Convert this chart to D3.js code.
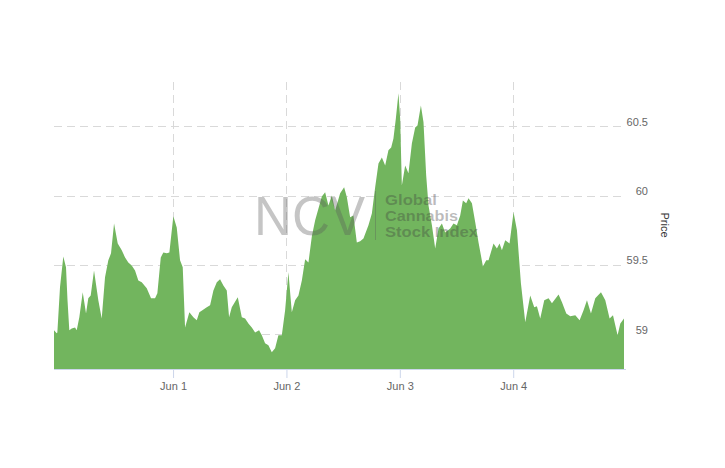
<!DOCTYPE html>
<html>
<head>
<meta charset="utf-8">
<script src="https://cdn.jsdelivr.net/npm/d3@7"></script>
<style>
  html, body { margin: 0; padding: 0; background: #fff; }
  svg { display: block; }
</style>
</head>
<body>
<svg id="chart" width="725" height="468"></svg>
<script>
// ---- data (hours since 2019-05-31 00:00, index price) ----
const hours = [
  -1.20, -0.63, -0.49, 0.07, 0.77, 1.34, 1.66, 2.04, 2.55, 3.25,
  3.61, 4.16, 4.88, 5.58, 6.06, 6.57, 7.27, 8.18, 8.90, 9.60,
  10.30, 10.87, 11.51, 12.29, 13.14, 13.84, 14.53, 15.25, 15.95, 16.65,
  17.37, 18.43, 19.34, 20.19, 20.68, 21.40, 21.95, 22.67, 23.22, 24.06,
  24.78, 25.48, 26.05, 26.54, 27.45, 28.30, 29.02, 29.57, 30.21, 31.14,
  31.84, 32.54, 33.26, 33.95, 34.65, 35.37, 35.86, 36.43, 37.70, 38.55,
  39.25, 39.95, 40.67, 41.37, 42.21, 42.79, 43.48, 44.18, 44.90, 45.60,
  46.30, 47.02, 47.72, 48.42, 49.14, 49.84, 50.54, 51.26, 51.96, 52.66,
  53.38, 54.08, 54.78, 55.49, 56.19, 56.89, 57.61, 58.31, 59.37, 60.21,
  60.79, 61.48, 62.18, 62.90, 63.60, 64.30, 65.36, 66.08, 66.78, 67.48,
  68.20, 68.90, 69.59, 70.17, 70.65, 71.16, 71.71, 72.07, 72.43, 73.13,
  73.83, 74.55, 75.25, 75.74, 76.46, 77.01, 77.58, 78.07, 78.79, 79.49,
  80.19, 80.91, 81.60, 82.66, 83.36, 84.08, 84.78, 85.35, 86.05, 86.54,
  87.26, 87.96, 88.66, 89.59, 90.29, 90.78, 91.83, 92.55, 93.10, 93.61,
  94.31, 95.22, 96.07, 96.79, 97.63, 98.55, 99.60, 100.45, 101.02, 101.72,
  102.57, 103.48, 104.20, 105.60, 106.32, 107.23, 108.08, 109.14, 110.05, 110.89,
  111.61, 112.46, 113.37, 114.58, 115.49, 116.40, 117.12, 118.09, 118.67, 119.45
];
const prices = [
  59.029, 59.007, 59.014, 59.339, 59.562, 59.483, 59.245, 59.029, 59.043, 59.050,
  59.029, 59.123, 59.303, 59.151, 59.260, 59.281, 59.461, 59.245, 59.115, 59.411,
  59.534, 59.584, 59.800, 59.656, 59.606, 59.555, 59.519, 59.497, 59.461, 59.389,
  59.375, 59.332, 59.260, 59.260, 59.296, 59.555, 59.591, 59.584, 59.591, 59.851,
  59.771, 59.534, 59.483, 59.050, 59.159, 59.123, 59.101, 59.159, 59.173, 59.195,
  59.209, 59.317, 59.375, 59.397, 59.353, 59.317, 59.123, 59.195, 59.267, 59.123,
  59.115, 59.079, 59.050, 59.014, 59.029, 58.993, 58.935, 58.921, 58.870, 58.899,
  58.993, 58.993, 59.173, 59.447, 59.159, 59.245, 59.281, 59.389, 59.541, 59.519,
  59.707, 59.822, 59.908, 59.995, 60.024, 59.930, 60.002, 59.894, 60.017, 60.060,
  59.988, 59.844, 59.858, 59.663, 59.671, 59.692, 59.786, 59.872, 60.060, 60.233,
  60.276, 60.218, 60.327, 60.348, 60.413, 60.557, 60.738, 60.557, 60.074, 60.218,
  60.161, 60.377, 60.492, 60.507, 60.651, 60.529, 60.146, 59.930, 59.786, 59.620,
  59.764, 59.800, 59.735, 59.764, 59.800, 59.786, 59.858, 59.966, 59.945, 59.981,
  59.945, 59.808, 59.663, 59.490, 59.534, 59.534, 59.656, 59.620, 59.656, 59.606,
  59.678, 59.656, 59.880, 59.750, 59.368, 59.087, 59.281, 59.195, 59.202, 59.115,
  59.245, 59.260, 59.224, 59.288, 59.231, 59.151, 59.130, 59.137, 59.101, 59.173,
  59.245, 59.151, 59.260, 59.303, 59.245, 59.115, 59.137, 58.993, 59.079, 59.115
];
const yTicks = [59, 59.5, 60, 60.5];
const xTickDates = ["2019-06-01", "2019-06-02", "2019-06-03", "2019-06-04"];
const xTickLabels = ["Jun 1", "Jun 2", "Jun 3", "Jun 4"];
const yAxisTitle = "Price";
const watermarkBig = "NCV";
const watermarkLines = ["Global", "Cannabis", "Stock Index"];

// ---- build ----
const base = Date.UTC(2019, 4, 31, 0, 0);
const data = hours.map((h, i) => ({ t: new Date(base + h * 3600e3), v: prices[i] }));

const svg = d3.select("#chart");
const plot = { left: 54, right: 624, top: 82, bottom: 369 };

const x = d3.scaleUtc()
  .domain(d3.extent(data, d => d.t))
  .range([plot.left, plot.right]);
const y = d3.scaleLinear()
  .domain([58.75, 60.82])
  .range([plot.bottom, plot.top]);

const gridColor = "#d9d9d9";
const font = "'Liberation Sans', Arial, Helvetica, sans-serif";

// horizontal grid
svg.append("g").selectAll("line").data(yTicks).join("line")
  .attr("x1", plot.left).attr("x2", plot.right)
  .attr("y1", d => Math.round(y(d)) + 0.5).attr("y2", d => Math.round(y(d)) + 0.5)
  .attr("stroke", gridColor).attr("stroke-dasharray", "8,5");

// vertical grid
const xTicks = xTickDates.map(s => new Date(s + "T00:00:00Z"));
svg.append("g").selectAll("line").data(xTicks).join("line")
  .attr("x1", d => Math.round(x(d)) + 0.5).attr("x2", d => Math.round(x(d)) + 0.5)
  .attr("y1", plot.top).attr("y2", plot.bottom)
  .attr("stroke", gridColor).attr("stroke-dasharray", "8,5");

// area
const area = d3.area()
  .x(d => x(d.t))
  .y0(y(58.75))
  .y1(d => y(d.v));
svg.append("path").datum(data)
  .attr("d", area)
  .attr("fill", "#72b55e");

// x axis
const xAxis = d3.axisBottom(x)
  .tickValues(xTicks)
  .tickFormat((d, i) => xTickLabels[i])
  .tickSize(9)
  .tickPadding(4);
const gx = svg.append("g")
  .attr("transform", `translate(0,${plot.bottom})`)
  .call(xAxis);
gx.select(".domain").attr("stroke", "#ccd6eb").attr("d", `M${plot.left},0.5H${plot.right + 2}`);
gx.selectAll(".tick line").attr("stroke", "#ccd6eb");
gx.selectAll(".tick text")
  .attr("fill", "#666").attr("font-size", 11).attr("font-family", font);

// y axis (right, labels only)
const yAxis = d3.axisRight(y)
  .tickValues(yTicks)
  .tickFormat(d3.format("~g"))
  .tickSize(0);
const gy = svg.append("g")
  .attr("transform", `translate(${plot.right},0)`)
  .call(yAxis);
gy.select(".domain").remove();
gy.selectAll(".tick text")
  .attr("x", 24).attr("dy", "-0.12em")
  .attr("text-anchor", "end")
  .attr("fill", "#666").attr("font-size", 11).attr("font-family", font);

// y axis title
svg.append("text")
  .attr("transform", "translate(661,225) rotate(90)")
  .attr("text-anchor", "middle")
  .attr("font-size", 11).attr("font-family", font).attr("fill", "#333")
  .text(yAxisTitle);

// watermark
const wm = svg.append("g").attr("pointer-events", "none");
wm.append("text")
  .attr("x", 254).attr("y", 235)
  .attr("font-size", 55).attr("font-family", font)
  .attr("textLength", 111).attr("lengthAdjust", "spacingAndGlyphs")
  .attr("fill", "rgb(90,90,90)").attr("fill-opacity", 0.35)
  .text(watermarkBig);
wm.append("line")
  .attr("x1", 375.5).attr("x2", 375.5).attr("y1", 191).attr("y2", 240)
  .attr("stroke", "rgb(90,90,90)").attr("stroke-opacity", 0.35);
const subWidths = [52, 73, 93];
wm.selectAll("text.sub").data(watermarkLines).join("text")
  .attr("class", "sub")
  .attr("x", 385).attr("y", (d, i) => 205 + i * 16)
  .attr("font-size", 14).attr("font-weight", "bold").attr("font-family", font)
  .attr("textLength", (d, i) => subWidths[i]).attr("lengthAdjust", "spacingAndGlyphs")
  .attr("fill", "rgb(60,60,60)").attr("fill-opacity", 0.35)
  .text(d => d);
</script>
</body>
</html>
